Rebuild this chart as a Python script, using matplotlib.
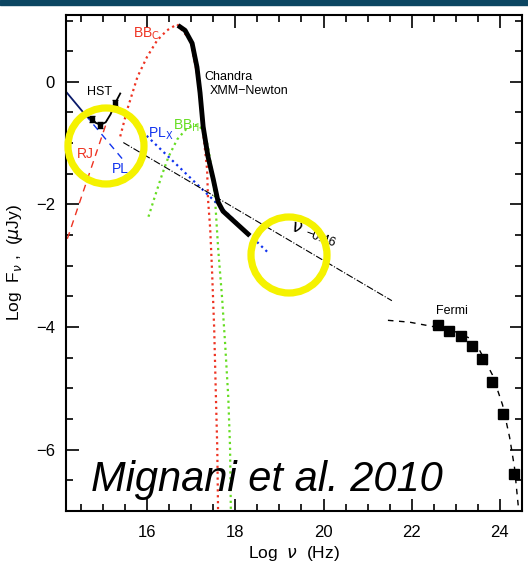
import numpy as np
import matplotlib.pyplot as plt
from matplotlib.patches import Ellipse, Rectangle

plt.rcParams.update({
    "font.family": ["Liberation Sans", "DejaVu Sans"],
    "mathtext.fontset": "dejavusans",
})

RED = "#ee3322"
GREEN = "#66dd22"
BLUE = "#1133ee"
NAVY = "#0a1a6a"
YELLOW = "#f5f200"

# Chandra / XMM-Newton thick curve
xray_x = [16.70, 16.86, 17.02, 17.13, 17.20, 17.27, 17.38, 17.50, 17.61, 17.72, 18.04, 18.33]
xray_y = [0.92, 0.84, 0.63, 0.24, -0.18, -0.73, -1.22, -1.59, -1.96, -2.11, -2.32, -2.51]

# blackbody components
bbc_x = [15.39, 15.55, 15.78, 16.00, 16.23, 16.45, 16.68, 16.98, 17.16, 17.27, 17.36,
         17.38, 17.43, 17.47, 17.52, 17.56, 17.59, 17.61]
bbc_y = [-0.89, -0.45, 0.08, 0.41, 0.68, 0.84, 0.94, 0.68, 0.03, -0.83, -1.43,
         -1.91, -2.40, -3.05, -4.02, -5.15, -5.96, -7.10]
bbh_x = [16.03, 16.18, 16.34, 16.48, 16.68, 16.91, 17.13, 17.27, 17.38, 17.47, 17.54,
         17.61, 17.70, 17.77, 17.84, 17.88, 17.90]
bbh_y = [-2.20, -1.86, -1.51, -1.23, -0.94, -0.75, -0.70, -0.78, -1.05, -1.47, -1.91,
         -2.72, -3.53, -4.29, -5.15, -5.96, -7.10]

# power laws
plx_x = [15.70, 18.72]
plx_y = [-0.68, -2.77]
pl_solid_x = [14.16, 14.60]
pl_solid_y = [-0.16, -0.54]
pl_dash_x = [14.60, 15.50]
pl_dash_y = [-0.54, -1.31]
rj_x = [14.19, 15.10]
rj_y = [-2.56, -0.62]
nu_x = [15.46, 21.55]
nu_y = [-0.99, -3.57]

# HST
hst_x = [14.67, 14.74, 14.84, 14.94, 15.06, 15.17, 15.28, 15.39]
hst_y = [-0.58, -0.60, -0.67, -0.70, -0.66, -0.53, -0.34, -0.19]
hst_px = [14.74, 14.94, 15.28]
hst_py = [-0.60, -0.70, -0.34]

# Fermi
fermi_x = [22.59, 22.84, 23.11, 23.36, 23.60, 23.83, 24.08, 24.31]
fermi_y = [-3.97, -4.07, -4.15, -4.31, -4.52, -4.89, -5.41, -6.40]
fit_x = [21.46, 21.95, 22.47, 22.97, 23.31, 23.54, 23.83, 24.06, 24.22, 24.33, 24.42]
fit_y = [-3.89, -3.92, -3.99, -4.07, -4.18, -4.38, -4.78, -5.27, -5.80, -6.29, -6.95]

fig = plt.figure(figsize=(5.28, 5.67), dpi=100)
ax = fig.add_axes([0.125, 0.0988, 0.8636, 0.8747])

ax.plot(bbc_x, bbc_y, color=RED, ls=":", lw=1.6)
ax.plot(bbh_x, bbh_y, color=GREEN, ls=":", lw=1.6)
ax.plot(plx_x, plx_y, color=BLUE, ls=":", lw=1.6)
ax.plot(nu_x, nu_y, color="black", ls="-.", lw=0.8)
ax.plot(pl_solid_x, pl_solid_y, color=NAVY, lw=1.3)
ax.plot(pl_dash_x, pl_dash_y, color=BLUE, ls=(0, (5, 4)), lw=1.0)
ax.plot(rj_x, rj_y, color=RED, ls=(0, (5, 4)), lw=1.0)
ax.plot(xray_x, xray_y, color="black", lw=3.5, solid_capstyle="butt")
ax.plot(hst_x, hst_y, color="black", lw=1.3)
ax.errorbar(hst_px, hst_py, yerr=0.05, fmt="s", ms=3, color="black", capsize=2, lw=1)
ax.plot(fit_x, fit_y, color="black", ls=(0, (4, 4)), lw=1.0)
ax.plot(fermi_x, fermi_y, "s", color="black", ms=6.5)

ax.text(14.64, -0.21, "HST", fontsize=9)
ax.text(17.30, 0.03, "Chandra", fontsize=9)
ax.text(17.42, -0.20, "XMM\u2212Newton", fontsize=9)
ax.text(15.68, 0.72, r"BB$_\mathsf{C}$", color=RED, fontsize=10)
ax.text(16.59, -0.78, r"BB$_\mathsf{H}$", color=GREEN, fontsize=10)
ax.text(16.03, -0.91, r"PL$_\mathsf{X}$", color=BLUE, fontsize=10)
ax.text(14.41, -1.24, "RJ", color=RED, fontsize=10)
ax.text(15.20, -1.48, "PL", color=BLUE, fontsize=10)
ax.text(19.40, -2.38, r"$\nu$", fontsize=13, rotation=-10, ha="center", va="center")
ax.text(20.30, -2.56, "\u22120.46", fontsize=9, rotation=-20, ha="right", va="center")
ax.text(22.55, -3.78, "Fermi", fontsize=9)

ax.set_xlim(14.16, 24.5)
ax.set_ylim(-7.0, 1.09)
ax.set_xticks([16, 18, 20, 22, 24])
ax.set_yticks([0, -2, -4, -6])
ax.set_yticklabels(["0", "\u22122", "\u22124", "\u22126"])
ax.set_xticks(np.arange(14.5, 24.6, 0.5), minor=True)
ax.set_yticks(np.arange(-7.0, 1.1, 0.5), minor=True)
ax.tick_params(which="both", direction="in", top=True, right=True, width=1.2, labelsize=12)
ax.tick_params(which="major", length=9)
ax.tick_params(which="minor", length=5)
ax.tick_params(axis="x", which="major", pad=10)
ax.tick_params(axis="y", which="major", pad=8)
for s in ax.spines.values():
    s.set_linewidth(1.5)
ax.set_xlabel("Log  $\\nu$  (Hz)", fontsize=12.5, labelpad=3)
ax.set_ylabel("Log  F$_\\nu$ ,  ($\\mu$Jy)", fontsize=12.5, labelpad=8)

ax.text(0.44, 0.0625, "Mignani et al. 2010", transform=ax.transAxes,
        fontsize=30, style="italic", ha="center", va="center")

# highlight circles and top band
for cx, cy in [(106, 146), (289, 255)]:
    fig.patches.append(Ellipse((cx / 528, 1 - cy / 567), 76 / 528, 76 / 567,
                               transform=fig.transFigure, fill=False,
                               edgecolor=YELLOW, lw=5.2, zorder=10))
fig.patches.append(Rectangle((0, 1 - 5 / 567), 1, 5 / 567, transform=fig.transFigure,
                             color="#0c4662", zorder=10))

fig.savefig("out.png", dpi=100)
